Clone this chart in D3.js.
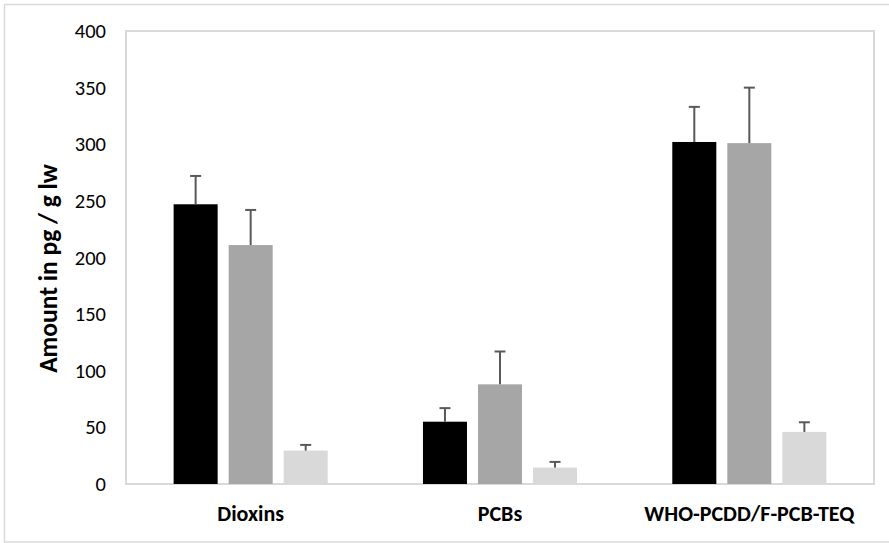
<!DOCTYPE html>
<html>
<head>
<meta charset="utf-8">
<script src="https://cdn.jsdelivr.net/npm/d3@7"></script>
<style>
  html, body { margin: 0; padding: 0; background: #fff; }
  svg { display: block; }
</style>
</head>
<body>
<svg id="chart" width="889" height="543"></svg>
<script>
const categories = ["Dioxins", "PCBs", "WHO-PCDD/F-PCB-TEQ"];
const seriesNames = ["group1", "group2", "group3"];
const seriesColors = ["#000000", "#a6a6a6", "#d9d9d9"];

const group1Values = [247, 55, 302];
const group1Errors = [25, 12, 31];
const group2Values = [211, 88, 301];
const group2Errors = [31, 29, 49];
const group3Values = [29.5, 14.5, 46];
const group3Errors = [5, 5, 8.5];

const yTicks = [0, 50, 100, 150, 200, 250, 300, 350, 400];

const width = 889;
const plot = { left: 126, right: 874, top: 31, bottom: 484 };
const fontFamily = "'Carlito', 'Open Sans', 'Liberation Sans', sans-serif";

const rows = categories.map((category, i) => ({
  category,
  bars: [
    { name: seriesNames[0], value: group1Values[i], error: group1Errors[i] },
    { name: seriesNames[1], value: group2Values[i], error: group2Errors[i] },
    { name: seriesNames[2], value: group3Values[i], error: group3Errors[i] },
  ],
}));

const svg = d3.select("#chart");

// outer chart border
svg.append("rect")
  .attr("x", 4.5).attr("y", 4.5)
  .attr("width", width + 10).attr("height", 537.5)
  .attr("fill", "none").attr("stroke", "#d9d9d9").attr("stroke-width", 1.5);

const x0 = d3.scaleBand()
  .domain(categories)
  .range([plot.left, plot.right])
  .paddingInner(0.382)
  .paddingOuter(0.191);

const x1 = d3.scaleBand()
  .domain(seriesNames)
  .range([0, x0.bandwidth()])
  .paddingInner(0.2);

const color = d3.scaleOrdinal().domain(seriesNames).range(seriesColors);

const y = d3.scaleLinear().domain([0, 400]).range([plot.bottom, plot.top]);

// plot area border
svg.append("rect")
  .attr("x", plot.left).attr("y", plot.top)
  .attr("width", plot.right - plot.left).attr("height", plot.bottom - plot.top)
  .attr("fill", "none").attr("stroke", "#d9d9d9").attr("stroke-width", 2);

// y axis labels
const yAxis = svg.append("g")
  .attr("transform", `translate(${plot.left},0)`)
  .call(d3.axisLeft(y).tickValues(yTicks).tickSize(0).tickPadding(20));
yAxis.select(".domain").remove();
yAxis.selectAll("text")
  .attr("font-family", fontFamily)
  .attr("font-size", 20.5)
  .attr("fill", "#000");

svg.append("text")
  .attr("transform", `translate(57, ${(plot.top + plot.bottom) / 2 + 11}) rotate(-90)`)
  .attr("text-anchor", "middle")
  .attr("font-family", fontFamily)
  .attr("font-size", 25.5)
  .attr("font-weight", "bold")
  .text("Amount in pg / g lw");

// x labels
svg.append("g")
  .selectAll("text")
  .data(categories)
  .join("text")
  .attr("x", (d) => x0(d) + x0.bandwidth() / 2)
  .attr("y", 521)
  .attr("text-anchor", "middle")
  .attr("font-family", fontFamily)
  .attr("font-size", 22)
  .attr("font-weight", "bold")
  .text((d) => d);

const groups = svg.append("g")
  .selectAll("g")
  .data(rows)
  .join("g")
  .attr("transform", (d) => `translate(${x0(d.category)},0)`);

groups.selectAll("rect")
  .data((d) => d.bars)
  .join("rect")
  .attr("x", (d) => x1(d.name))
  .attr("y", (d) => y(d.value))
  .attr("width", x1.bandwidth())
  .attr("height", (d) => y(0) - y(d.value))
  .attr("fill", (d) => color(d.name));

// error bars (upper only)
const errorBars = groups.selectAll("g.err")
  .data((d) => d.bars)
  .join("g")
  .attr("class", "err")
  .attr("stroke", "#595959")
  .attr("stroke-width", 2);

errorBars.append("line")
  .attr("x1", (d) => x1(d.name) + x1.bandwidth() / 2)
  .attr("x2", (d) => x1(d.name) + x1.bandwidth() / 2)
  .attr("y1", (d) => y(d.value))
  .attr("y2", (d) => y(d.value + d.error));

errorBars.append("line")
  .attr("x1", (d) => x1(d.name) + x1.bandwidth() / 2 - 5.5)
  .attr("x2", (d) => x1(d.name) + x1.bandwidth() / 2 + 5.5)
  .attr("y1", (d) => y(d.value + d.error))
  .attr("y2", (d) => y(d.value + d.error));
</script>
</body>
</html>
